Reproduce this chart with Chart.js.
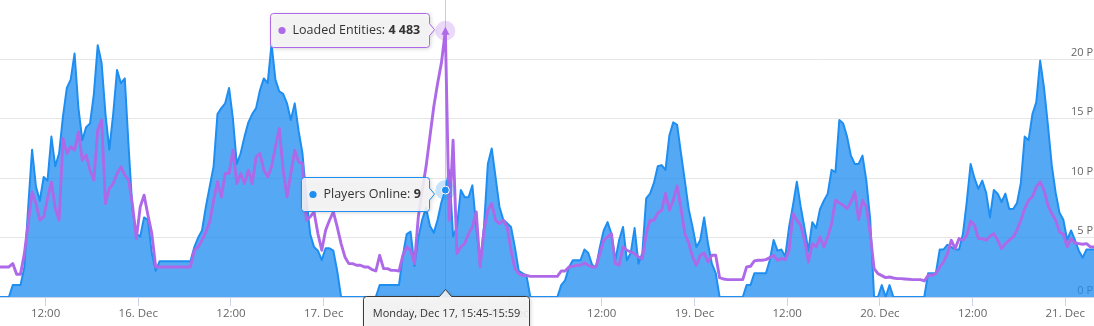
<!DOCTYPE html>
<html>
<head>
<meta charset="utf-8">
<title>Players Online / Loaded Entities</title>
<script src="https://cdn.jsdelivr.net/npm/chart.js@4.4.1/dist/chart.umd.min.js"></script>
<style>
  html, body { margin: 0; padding: 0; background: #ffffff; overflow: hidden; }
  #wrap { position: relative; width: 1094px; height: 326px; }
</style>
</head>
<body>
<div id="wrap"><canvas id="chart" width="1094" height="326"></canvas></div>
<script>
// Samples every 30 minutes, starting 15 Dec 05:45 (hours counted from 15 Dec 00:00).
const startHour = 5.75;
const stepHours = 0.5;

const playersOnline = [
  0, 0, 0, 0, 1, 1, 1, 2.5, 7.6, 12.4,
  9.3, 8.1, 10.1, 9.8, 13.5, 11.0, 12.1, 15.2, 17.6, 18.3,
  20.5, 15.9, 13.2, 14.3, 14.6, 17.1, 21.2, 19.7, 15.4, 12.4,
  15.4, 19.1, 18.0, 18.4, 12.6, 7.3, 5.3, 5.1, 6.7, 6.5,
  3.7, 2.2, 3, 3, 3, 3, 3, 3, 3, 3,
  3, 4.2, 5.0, 5.6, 7.6, 9.3, 11.0, 15.4, 15.9, 16.3,
  17.6, 15.0, 11.2, 12.1, 13.5, 14.7, 15.4, 15.9, 17.4, 18.4,
  18.0, 21.3, 18.3, 17.3, 17.1, 16.3, 14.9, 16.3, 14.0, 12.1,
  8.4, 5.3, 4.2, 3.9, 3.1, 4.1, 4.1, 3.9, 2.2, 0,
  0, 0, 0, 0, 0, 0, 0, 0, 0, 1,
  1, 1, 1, 1, 1, 3.5, 5.3, 5.5, 2.6, 5.0,
  6.5, 7.5, 6.0, 5.4, 6.5, 8.0, 9, 10.7, 5.1, 5.9,
  9.0, 8.4, 8.4, 9.4, 5.9, 2.7, 5.9, 11.2, 12.5, 10.1,
  7.6, 6.5, 6.2, 5.9, 4.2, 2.2, 2.0, 1.8, 0, 0,
  0, 0, 0, 0, 0, 0, 1.0, 1.4, 2.5, 3.1,
  3.1, 3.1, 4.0, 3.7, 2.7, 2.5, 4.2, 5.6, 6.3, 5.3,
  3.1, 4.8, 5.9, 3.1, 3.7, 5.8, 2.8, 3.7, 8.3, 8.7,
  9.6, 11.0, 11.1, 10.7, 13.6, 14.7, 14.5, 12.1, 9.8, 7.4,
  5.9, 4.2, 4.8, 6.7, 4.5, 2.8, 2.0, 0, 0, 0,
  0, 0, 0, 0, 1, 1, 2, 2, 2, 2,
  3.1, 4.8, 3.9, 4.0, 3.4, 5.9, 7.7, 9.7, 7.6, 5.8,
  3.9, 6.3, 5.8, 7.4, 8.1, 8.7, 10.7, 10.5, 14.9, 14.6,
  13.5, 11.9, 11.2, 11.2, 11.9, 9.8, 6.5, 0, 0, 1,
  0, 1, 0, 0, 0, 0, 0, 0, 0, 0,
  0, 2, 2, 2, 4, 4, 4.4, 4.2, 4, 4,
  5.3, 8.0, 11.2, 10.0, 9.1, 9.8, 8.8, 6.7, 9.0, 8.7,
  8.0, 8.7, 7.4, 7.4, 7.9, 9.6, 13.5, 13.2, 15.4, 16.4,
  19.9, 17.6, 14.5, 11.1, 8.8, 7.1, 6.5, 4.8, 5.6, 4.8,
  3.9, 3.3, 4.0, 4.0, 4.0
];

const loadedEntities = [
  506, 506, 506, 506, 562, 382, 382, 730, 1236, 1770,
  1573, 1292, 1348, 1657, 1938, 1489, 1292, 2669, 2416, 2528,
  2472, 2781, 2303, 2388, 2135, 1966, 2809, 2978, 1573, 1826,
  1910, 2079, 2191, 2051, 1966, 1545, 983, 1517, 1713, 1376,
  1067, 506, 506, 506, 506, 506, 506, 506, 506, 506,
  506, 787, 843, 955, 1096, 1264, 1629, 1940, 1685, 2079,
  2079, 2472, 1910, 2079, 1910, 2135, 1910, 2360, 2416, 2135,
  2022, 2191, 2528, 2837, 2135, 1685, 2079, 2472, 2275, 2247,
  1292, 1348, 1432, 1067, 787, 1124, 1292, 1432, 1180, 899,
  674, 562, 562, 534, 534, 506, 506, 461, 438, 702,
  478, 478, 449, 449, 438, 702, 843, 787, 562, 1348,
  1798, 2191, 2697, 3202, 3600, 3950, 4483, 1292, 2640, 730,
  843, 899, 1067, 1180, 1432, 506, 1124, 1461, 1573, 1292,
  1236, 1292, 1180, 787, 478, 393, 365, 365, 348, 348,
  348, 348, 348, 348, 348, 348, 438, 438, 506, 517,
  534, 534, 573, 534, 506, 506, 730, 955, 1011, 1067,
  562, 534, 843, 787, 758, 730, 674, 646, 1067, 1292,
  1292, 1416, 1461, 1742, 1461, 1629, 1871, 1489, 1067, 910,
  674, 534, 702, 742, 590, 702, 702, 326, 303, 292,
  292, 292, 292, 292, 506, 517, 607, 618, 618, 629,
  663, 702, 618, 646, 629, 787, 1404, 1292, 1208, 955,
  590, 899, 843, 1011, 843, 1011, 1236, 1629, 1584, 1545,
  1489, 1601, 1770, 1303, 1629, 1517, 1067, 478, 393, 360,
  326, 337, 320, 309, 309, 303, 298, 292, 292, 292,
  270, 365, 365, 393, 506, 590, 730, 955, 815, 983,
  955, 1039, 1281, 1208, 983, 983, 955, 1022, 1067, 955,
  815, 899, 955, 1011, 1124, 1292, 1489, 1629, 1685, 1854,
  1938, 1798, 1545, 1404, 1292, 1096, 1056, 843, 983, 910,
  899, 888, 899, 843, 843
];

// Time axis ticks (hours from 15 Dec 00:00) and their labels.
const xTickHours  = [12, 24, 36, 48, 60, 72, 84, 96, 108, 120, 132, 144];
const xTickLabels = ['12:00', '16. Dec', '12:00', '17. Dec', '12:00', '18. Dec',
                     '12:00', '19. Dec', '12:00', '20. Dec', '12:00', '21. Dec'];

// Players axis ticks and labels.
const playerTicks      = [0, 5, 10, 15, 20];
const playerTickLabels = ['0 P', '5 P', '10 P', '15 P', '20 P'];

// Visible time window.
const xMin = 6.097;
const xMax = 147.72;

// Highlighted sample (Mon 17 Dec, 15:45).
const hoverIndex = 116;

const FONT = "'Open Sans', sans-serif";
const BLUE = '#1f8ef1';
const BLUE_FILL = 'rgba(31, 142, 241, 0.76)';
const PURPLE = '#ae69e8';

const timeAt = i => startHour + i * stepHours;
const playerPoints = playersOnline.map((v, i) => ({ x: timeAt(i), y: v }));
const entityPoints = loadedEntities.map((v, i) => ({ x: timeAt(i), y: v }));

function formatThousands(v) {
  return String(v).replace(/\B(?=(\d{3})+(?!\d))/g, ' ');
}
function pad2(n) { return (n < 10 ? '0' : '') + n; }
function headerText(hours) {
  const base = new Date(2018, 11, 15, 0, 0, 0);
  const start = new Date(base.getTime() + hours * 3600e3);
  const end = new Date(start.getTime() + 14 * 60e3);
  const days = ['Sunday', 'Monday', 'Tuesday', 'Wednesday', 'Thursday', 'Friday', 'Saturday'];
  const months = ['Jan', 'Feb', 'Mar', 'Apr', 'May', 'Jun', 'Jul', 'Aug', 'Sep', 'Oct', 'Nov', 'Dec'];
  return days[start.getDay()] + ', ' + months[start.getMonth()] + ' ' + start.getDate() + ', ' +
    pad2(start.getHours()) + ':' + pad2(start.getMinutes()) + '-' +
    pad2(end.getHours()) + ':' + pad2(end.getMinutes());
}

function hexToRgba(hex, a) {
  const n = parseInt(hex.slice(1), 16);
  return 'rgba(' + (n >> 16 & 255) + ',' + (n >> 8 & 255) + ',' + (n & 255) + ',' + a + ')';
}

// Box with a small callout arrow on its right side.
function sideCalloutPath(ctx, x, y, w, h, r, tipX, tipY) {
  ctx.beginPath();
  ctx.moveTo(x + r, y);
  ctx.lineTo(x + w - r, y);
  ctx.arcTo(x + w, y, x + w, y + r, r);
  ctx.lineTo(x + w, tipY - 6);
  ctx.lineTo(tipX, tipY);
  ctx.lineTo(x + w, tipY + 6);
  ctx.lineTo(x + w, y + h - r);
  ctx.arcTo(x + w, y + h, x + w - r, y + h, r);
  ctx.lineTo(x + r, y + h);
  ctx.arcTo(x, y + h, x, y + h - r, r);
  ctx.lineTo(x, y + r);
  ctx.arcTo(x, y, x + r, y, r);
  ctx.closePath();
}

// Box with a callout arrow on its top edge.
function topCalloutPath(ctx, x, y, w, h, r, tipX, tipY) {
  ctx.beginPath();
  ctx.moveTo(x + r, y);
  ctx.lineTo(tipX - 6, y);
  ctx.lineTo(tipX, tipY);
  ctx.lineTo(tipX + 6, y);
  ctx.lineTo(x + w - r, y);
  ctx.arcTo(x + w, y, x + w, y + r, r);
  ctx.lineTo(x + w, y + h - r);
  ctx.arcTo(x + w, y + h, x + w - r, y + h, r);
  ctx.lineTo(x + r, y + h);
  ctx.arcTo(x, y + h, x, y + h - r, r);
  ctx.lineTo(x, y + r);
  ctx.arcTo(x, y, x + r, y, r);
  ctx.closePath();
}

function fillWithShadow(ctx, fill, stroke) {
  ctx.save();
  ctx.shadowColor = 'rgba(0,0,0,0.22)';
  ctx.shadowBlur = 4;
  ctx.shadowOffsetX = 1;
  ctx.shadowOffsetY = 1;
  ctx.fillStyle = fill;
  ctx.fill();
  ctx.restore();
  ctx.lineWidth = 1;
  ctx.strokeStyle = stroke;
  ctx.stroke();
}

function drawSeriesTip(ctx, pointX, pointY, color, name, value) {
  const size = 12.5;
  ctx.font = size + 'px ' + FONT;
  const nameW = ctx.measureText(name + ': ').width;
  ctx.font = 'bold ' + size + 'px ' + FONT;
  const valW = ctx.measureText(value).width;
  const w = Math.round(22 + nameW + valW + 9);
  const h = 34;
  const right = Math.round(pointX - 16) + 0.5;
  const x = right - w;
  const y = Math.round(pointY - h / 2) + 0.5;
  sideCalloutPath(ctx, x, y, w, h, 3, right + 5, pointY);
  fillWithShadow(ctx, 'rgba(247,247,247,0.88)', color);

  ctx.fillStyle = color;
  ctx.beginPath();
  ctx.arc(x + 11.5, y + h / 2, 3.6, 0, Math.PI * 2);
  ctx.fill();

  ctx.textBaseline = 'middle';
  ctx.textAlign = 'left';
  ctx.fillStyle = '#333333';
  ctx.font = size + 'px ' + FONT;
  ctx.fillText(name + ': ', x + 22, y + h / 2);
  ctx.font = 'bold ' + size + 'px ' + FONT;
  ctx.fillText(value, x + 22 + nameW, y + h / 2);
}

const hoverDecor = {
  id: 'hoverDecor',
  beforeDatasetsDraw(chart) {
    const { ctx, chartArea } = chart;
    const px = Math.round(chart.scales.x.getPixelForValue(timeAt(hoverIndex))) + 0.5;
    ctx.save();
    ctx.strokeStyle = '#cccccc';
    ctx.lineWidth = 1;
    ctx.beginPath();
    ctx.moveTo(px, chartArea.top);
    ctx.lineTo(px, chartArea.bottom);
    ctx.stroke();
    ctx.restore();
  },
  afterDatasetsDraw(chart) {
    const { ctx } = chart;
    const ent = chart.getDatasetMeta(0).data[hoverIndex];
    const ply = chart.getDatasetMeta(1).data[hoverIndex];
    ctx.save();
    // halos
    ctx.fillStyle = hexToRgba(PURPLE, 0.25);
    ctx.beginPath(); ctx.arc(ent.x, ent.y, 10, 0, Math.PI * 2); ctx.fill();
    ctx.fillStyle = hexToRgba(BLUE, 0.25);
    ctx.beginPath(); ctx.arc(ply.x, ply.y, 10, 0, Math.PI * 2); ctx.fill();
    // entity marker: triangle
    ctx.fillStyle = PURPLE;
    ctx.strokeStyle = '#ffffff';
    ctx.lineWidth = 1;
    ctx.beginPath();
    ctx.moveTo(ent.x, ent.y - 4);
    ctx.lineTo(ent.x + 4, ent.y + 4);
    ctx.lineTo(ent.x - 4, ent.y + 4);
    ctx.closePath();
    ctx.fill();
    // player marker: circle
    ctx.fillStyle = BLUE;
    ctx.beginPath(); ctx.arc(ply.x, ply.y, 4, 0, Math.PI * 2); ctx.fill(); ctx.stroke();
    ctx.restore();
  },
  afterDraw(chart) {
    const { ctx } = chart;
    const ent = chart.getDatasetMeta(0).data[hoverIndex];
    const ply = chart.getDatasetMeta(1).data[hoverIndex];
    ctx.save();
    drawSeriesTip(ctx, ent.x, ent.y - 1, PURPLE, 'Loaded Entities', formatThousands(loadedEntities[hoverIndex]));
    drawSeriesTip(ctx, ply.x, ply.y + 4, BLUE, 'Players Online', formatThousands(playersOnline[hoverIndex]));

    // time header under the axis
    const px = Math.round(chart.scales.x.getPixelForValue(timeAt(hoverIndex))) + 0.5;
    const text = headerText(timeAt(hoverIndex));
    ctx.font = '11px ' + FONT;
    const tw = ctx.measureText(text).width;
    const w = Math.round(tw + 18);
    const x = Math.round(px - w / 2) + 0.5;
    const y = 296.5;
    topCalloutPath(ctx, x, y, w, 36, 3, px, y - 7);
    fillWithShadow(ctx, 'rgba(247,247,247,0.88)', '#3a3a3a');
    ctx.fillStyle = '#333333';
    ctx.textAlign = 'center';
    ctx.textBaseline = 'middle';
    ctx.fillText(text, x + w / 2, y + 17);
    ctx.restore();
  }
};

Chart.defaults.font.family = FONT;

new Chart(document.getElementById('chart'), {
  type: 'line',
  data: {
    datasets: [
      {
        label: 'Loaded Entities',
        data: entityPoints,
        yAxisID: 'yE',
        borderColor: PURPLE,
        borderWidth: 2.9,
        fill: false,
        pointRadius: 0,
        tension: 0,
        borderJoinStyle: 'round'
      },
      {
        label: 'Players Online',
        data: playerPoints,
        yAxisID: 'yP',
        borderColor: BLUE,
        backgroundColor: BLUE_FILL,
        borderWidth: 2,
        fill: 'origin',
        pointRadius: 0,
        tension: 0,
        borderJoinStyle: 'round'
      }
    ]
  },
  options: {
    responsive: false,
    animation: false,
    events: [],
    layout: { padding: 0 },
    plugins: { legend: { display: false }, tooltip: { enabled: false } },
    scales: {
      x: {
        type: 'linear',
        position: 'bottom',
        min: xMin,
        max: xMax,
        afterBuildTicks: s => { s.ticks = xTickHours.map(v => ({ value: v })); },
        afterFit: s => { s.height = 29; s.paddingLeft = 0; s.paddingRight = 0; },
        ticks: {
          autoSkip: false, maxRotation: 0, minRotation: 0, padding: 1,
          color: '#666666', font: { size: 11.5 },
          callback: v => { const i = xTickHours.indexOf(v); return i >= 0 ? xTickLabels[i] : ''; }
        },
        grid: { drawOnChartArea: false, drawTicks: true, tickLength: 9, color: '#ccd6eb', lineWidth: 1 },
        border: { display: true, color: '#ccd6eb', width: 1 }
      },
      yP: {
        position: 'right',
        min: 0,
        max: 25,
        afterBuildTicks: s => { s.ticks = playerTicks.map(v => ({ value: v })); },
        afterFit: s => { s.width = 0; s.paddingTop = 0; s.paddingBottom = 0; },
        ticks: {
          mirror: true, padding: -1, labelOffset: -6.5,
          color: '#666666', font: { size: 11 },
          callback: v => { const i = playerTicks.indexOf(v); return i >= 0 ? playerTickLabels[i] : ''; }
        },
        grid: {
          drawTicks: false,
          color: c => (c.tick && c.tick.value === 0) ? 'rgba(0,0,0,0)' : '#e6e6e6',
          lineWidth: 1
        },
        border: { display: false }
      },
      yE: {
        position: 'left',
        display: false,
        min: 0,
        max: 5000
      }
    }
  },
  plugins: [hoverDecor]
});
</script>
</body>
</html>
